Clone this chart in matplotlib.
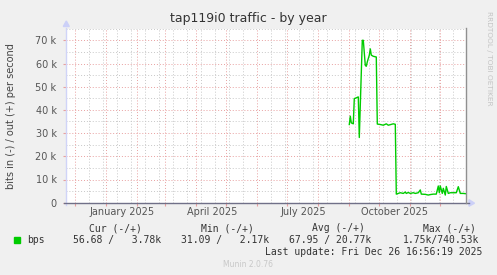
import datetime as dt
import pandas as pd
import matplotlib
matplotlib.use('Agg')
from matplotlib import pyplot as plt
import matplotlib.dates as mdates
from matplotlib.patches import Polygon, Rectangle

# data: days since 2025-09-01 and out traffic (bits/s)
start = dt.datetime(2025, 9, 1)
days = [0, 1, 2, 3, 4, 5, 6, 7, 8, 9, 10, 13, 14, 16, 17, 18, 20, 21, 22, 24,
        27, 28, 31, 34, 37, 39, 44, 46, 47, 51, 54, 56, 57, 59, 61, 64, 66,
        69, 71, 72, 76, 79, 81, 84, 87, 89, 90, 91, 93, 94, 96, 97, 99, 101,
        104, 107, 109, 111, 114, 116]
bps = [33.7, 37.3, 34.4, 34.2, 34.0, 44.9, 45.0, 45.2, 45.4, 45.6, 28.1, 70.0,
       70.0, 59.2, 58.8, 60.7, 63.6, 66.3, 63.6, 63.1, 62.8, 33.9, 33.7, 33.4,
       34.0, 33.4, 34.0, 33.8, 3.7, 4.3, 4.0, 4.6, 4.0, 4.4, 4.0, 4.3, 4.0,
       4.3, 5.5, 3.7, 3.6, 3.3, 3.5, 3.7, 3.7, 7.2, 4.3, 7.2, 4.0, 6.2, 3.3,
       7.0, 4.0, 4.3, 4.3, 4.3, 6.9, 4.0, 4.0, 3.9]
bps = [v * 1000 for v in bps]
dates = [start + dt.timedelta(days=d) for d in days]

yticks = [0, 10000, 20000, 30000, 40000, 50000, 60000, 70000]
ylabels = ['0', '10 k', '20 k', '30 k', '40 k', '50 k', '60 k', '70 k']
xlabels = ['January 2025', 'April 2025', 'July 2025', 'October 2025']
xlabel_dates = [dt.datetime(2025, 1, 1), dt.datetime(2025, 4, 1),
                dt.datetime(2025, 7, 1), dt.datetime(2025, 10, 1)]

heads = ['Cur (-/+)', 'Min (-/+)', 'Avg (-/+)', 'Max (-/+)']
vals = ['56.68 /   3.78k', '31.09 /   2.17k', '67.95 / 20.77k', '1.75k/740.53k']

W, H = 497, 275
END = dt.datetime(2025, 12, 26, 16, 56, 19)
BEGIN = dt.datetime(2024, 11, 22)


def fx(x):
    return x / W


def fy(y):
    return 1 - y / H


fig = plt.figure(figsize=(W / 100, H / 100), dpi=100, facecolor='#f0f0f0')
L, R, T, B = 66.3, 466.0, 28.7, 202.7
ax = fig.add_axes([fx(L), fy(B), fx(R - L), (B - T) / H])
ax.set_facecolor('white')
for s in ax.spines.values():
    s.set_visible(False)

ax.set_xlim(BEGIN, END)
ax.set_ylim(0, 75000)

ax.xaxis.set_major_locator(mdates.MonthLocator())
minors = pd.date_range('2024-12-01', '2025-12-26', freq='14D')
ax.xaxis.set_minor_locator(matplotlib.ticker.FixedLocator(mdates.date2num(minors.to_pydatetime())))
ax.xaxis.set_major_formatter(matplotlib.ticker.NullFormatter())
ax.set_yticks(yticks)
ax.set_yticklabels(ylabels)
ax.set_yticks([5000, 15000, 25000, 35000, 45000, 55000, 65000, 75000], minor=True)

ax.grid(which='minor', color='#c8c8c8', linestyle=(0, (1, 2)), linewidth=0.7)
ax.grid(which='major', color='#e8a0a0', linestyle=(0, (1, 2)), linewidth=0.7)
ax.set_axisbelow(True)
ax.tick_params(axis='x', which='major', length=2, color='#e8a0a0', labelbottom=False)
ax.tick_params(axis='x', which='minor', length=0)
ax.tick_params(axis='y', which='major', length=2, color='#e8a0a0', labelsize=7,
               labelcolor='#555555', pad=5)
ax.tick_params(axis='y', which='minor', length=0)

ax.plot(dates, bps, color='#00cc00', linewidth=1.0, zorder=3)

trans = matplotlib.transforms.blended_transform_factory(ax.transData, ax.transAxes)
for d, lab in zip(xlabel_dates, xlabels):
    ax.text(d + dt.timedelta(days=15.7), -0.055, lab, transform=trans, ha='center',
            va='center', fontsize=7, color='#555555')

# axes lines and arrows
fig.add_artist(plt.Line2D([fx(L), fx(L)], [fy(B + 2), fy(T - 1)], color='#d0d4f8', lw=1))
fig.add_artist(plt.Line2D([fx(L - 2), fx(R + 3)], [fy(B + 0.5), fy(B + 0.5)], color='#707088', lw=1))
fig.add_artist(plt.Line2D([fx(R), fx(R)], [fy(B), fy(T - 1)], color='#909090', lw=1))
fig.add_artist(Polygon([[fx(L - 3), fy(26.5)], [fx(L + 3), fy(26.5)], [fx(L), fy(21)]],
                       closed=True, color='#ccd0f8', transform=fig.transFigure))
fig.add_artist(Polygon([[fx(469), fy(B - 3)], [fx(469), fy(B + 3.5)], [fx(474.5), fy(B + 0.5)]],
                       closed=True, color='#ccd0f8', transform=fig.transFigure))

fig.text(fx(248.5), fy(18.5), 'tap119i0 traffic - by year', ha='center', va='center',
         fontsize=9, color='#333333')
fig.text(fx(11), fy(115.7), 'bits in (-) / out (+) per second', rotation=90,
         ha='center', va='center', fontsize=7, color='#444444')
fig.text(fx(489), fy(58), 'RRDTOOL / TOBI OETIKER', rotation=270, ha='center',
         va='center', fontsize=5.3, color='#c4c4c4')

mono = {'family': 'DejaVu Sans Mono', 'fontsize': 7, 'color': '#333333'}
for x, h in zip([89.3, 200.7, 311.7, 422.7], heads):
    fig.text(fx(x), fy(228.3), h, ha='left', va='center', **mono)
fig.add_artist(Rectangle((fx(14), fy(242.7)), fx(6), 5.4 / H, color='#00cc00',
                         transform=fig.transFigure))
fig.text(fx(26.7), fy(240), 'bps', ha='left', va='center', **mono)
for x, v in zip([72.7, 180.7, 288.7, 403.3], vals):
    fig.text(fx(x), fy(240), v, ha='left', va='center', **mono)
fig.text(fx(482.7), fy(251.7), 'Last update: Fri Dec 26 16:56:19 2025', ha='right',
         va='center', **mono)
fig.text(fx(248), fy(264.5), 'Munin 2.0.76', ha='center', va='center', fontsize=5.5,
         color='#c8c8c8')

fig.savefig('out.png', dpi=100, facecolor=fig.get_facecolor())
